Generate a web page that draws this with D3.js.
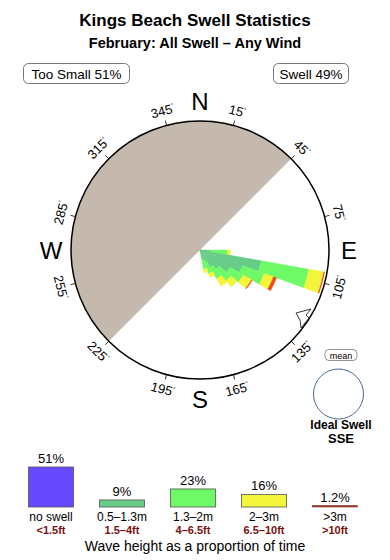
<!DOCTYPE html>
<html>
<head>
<meta charset="utf-8">
<script src="https://cdn.jsdelivr.net/npm/d3@7"></script>
<style>
  body { margin: 0; background: #fff; }
  svg { display: block; font-family: "Liberation Sans", Arial, sans-serif; }
</style>
</head>
<body>
<svg id="viz" width="390" height="560"></svg>
<script>
// ---- data ----
const bins    = [90, 100, 110, 120, 130, 140, 150, 160];   // bin start bearing, 10 deg wide
const small   = [1.2, 7.7, 5.6, 4.3, 3.1, 2.5, 1.5, 1.2];  // 0.5-1.3m
const medium  = [2.2, 6.0, 2.9, 1.9, 1.9, 1.6, 1.6, 1.2];  // 1.3-2m
const large   = [0.4, 1.9, 1.2, 1.2, 1.0, 1.1, 0.5, 0.5];  // 2-3m
const xlarge  = [0.0, 0.1, 0.4, 0.1, 0.0, 0.0, 0.0, 0.0];  // >3m

const legendCats   = ["no swell", "0.5–1.3m", "1.3–2m", "2–3m", ">3m"];
const legendFeet   = ["<1.5ft", "1.5–4ft", "4–6.5ft", "6.5–10ft", ">10ft"];
const legendPct    = [51, 9, 23, 16, 1.2];
const legendLabels = ["51%", "9%", "23%", "16%", "1.2%"];

const degTicks = [15, 45, 75, 105, 135, 165, 195, 225, 255, 285, 315, 345];
const cardinals = [["N", 0], ["E", 90], ["S", 180], ["W", 270]];

const colors = ["#6648ff", "#66cc88", "#6dfa66", "#f2f53a", "#ee4a1a"];

// ---- setup ----
const svg = d3.select("#viz");
const cx = 200, cy = 250, R = 129;
const rad = d => d * Math.PI / 180;

// titles
svg.append("text").attr("x", 195).attr("y", 26).attr("text-anchor", "middle")
  .attr("font-size", 17).attr("font-weight", "bold").text("Kings Beach Swell Statistics");
svg.append("text").attr("x", 195).attr("y", 48).attr("text-anchor", "middle")
  .attr("font-size", 14.5).attr("font-weight", "bold").text("February: All Swell – Any Wind");

// top boxes
function labelBox(x, w, txt) {
  svg.append("rect").attr("x", x).attr("y", 63.5).attr("width", w).attr("height", 20)
    .attr("rx", 5).attr("fill", "#fff").attr("stroke", "#777");
  svg.append("text").attr("x", x + w / 2).attr("y", 78.5).attr("text-anchor", "middle")
    .attr("font-size", 13.5).text(txt);
}
labelBox(23.5, 106, "Too Small 51%");
labelBox(273.5, 75, "Swell 49%");

// ---- compass ----
const g = svg.append("g").attr("transform", `translate(${cx},${cy})`);

// shadowed half (west side)
g.append("path")
  .attr("d", d3.arc()({ innerRadius: 0, outerRadius: R, startAngle: rad(225), endAngle: rad(405) }))
  .attr("fill", "#c5b9ae");

// rose petals, stacked by height class
const r = d3.scaleLinear().domain([0, 16]).range([0, R]);
const series = [small, medium, large, xlarge];
const rows = bins.map((b, i) => {
  let acc = 0;
  return series.map((s, k) => {
    const seg = { bin: b, k, r0: acc, r1: acc + s[i] };
    acc += s[i];
    return seg;
  });
}).flat().filter(d => d.r1 > d.r0);

const arc = d3.arc()
  .innerRadius(d => r(d.r0))
  .outerRadius(d => r(d.r1))
  .startAngle(d => rad(d.bin))
  .endAngle(d => rad(d.bin + 10));

g.selectAll("path.petal").data(rows).join("path")
  .attr("class", "petal")
  .attr("d", arc)
  .attr("fill", d => colors[d.k + 1])
  .attr("stroke", d => colors[d.k + 1])
  .attr("stroke-width", 0.4);

// outline circle
g.append("circle").attr("r", R).attr("fill", "none").attr("stroke", "#000").attr("stroke-width", 1.5);

// ticks and degree labels
g.selectAll("line.tick").data(degTicks).join("line")
  .attr("x1", d => R * Math.sin(rad(d))).attr("y1", d => -R * Math.cos(rad(d)))
  .attr("x2", d => (R + 5) * Math.sin(rad(d))).attr("y2", d => -(R + 5) * Math.cos(rad(d)))
  .attr("stroke", "#000").attr("stroke-width", 0.8);

const deg = g.selectAll("text.deg").data(degTicks).join("text")
  .attr("class", "deg")
  .attr("transform", d => {
    const x = 144 * Math.sin(rad(d)), y = -144 * Math.cos(rad(d));
    let rot = d > 90 && d < 270 ? d - 180 : (d > 180 ? d - 360 : d);
    return `translate(${x},${y}) rotate(${rot})`;
  })
  .attr("text-anchor", "middle").attr("dy", "0.35em").attr("font-size", 13);
deg.append("tspan").text(d => d);
deg.append("tspan").attr("font-size", 6).attr("dy", "-0.9em").text("°");

g.selectAll("text.card").data(cardinals).join("text")
  .attr("x", d => 149 * Math.sin(rad(d[1])))
  .attr("y", d => -149 * Math.cos(rad(d[1])))
  .attr("dy", "0.36em").attr("text-anchor", "middle")
  .attr("font-size", 24).text(d => d[0]);

// small marker arrow near the rim
g.append("path")
  .attr("d", "M96,63 L111,59 L106,65 L109,68 L101,78 L100,70 Z")
  .attr("fill", "#fff").attr("stroke", "#222").attr("stroke-width", 0.9);

// ---- mean / ideal swell ----
svg.append("rect").attr("x", 325).attr("y", 349.5).attr("width", 32).attr("height", 11)
  .attr("rx", 4).attr("fill", "#fff").attr("stroke", "#777").attr("stroke-width", 0.8);
svg.append("text").attr("x", 341).attr("y", 358.5).attr("text-anchor", "middle")
  .attr("font-size", 9).text("mean");
svg.append("circle").attr("cx", 338.5).attr("cy", 394).attr("r", 25)
  .attr("fill", "#fff").attr("stroke", "#4a6890").attr("stroke-width", 1);
svg.append("text").attr("x", 341).attr("y", 429).attr("text-anchor", "middle")
  .attr("font-size", 12).attr("font-weight", "bold").text("Ideal Swell");
svg.append("text").attr("x", 341).attr("y", 443).attr("text-anchor", "middle")
  .attr("font-size", 13).attr("font-weight", "bold").text("SSE");

// ---- legend bars ----
const base = 507;
const lx = d3.scalePoint().domain(legendCats).range([51, 335]);
const ly = d3.scaleLinear().domain([0, 51]).range([0, 40]);
const bw = 45;

svg.selectAll("rect.lbar").data(legendCats).join("rect")
  .attr("class", "lbar")
  .attr("x", d => lx(d) - bw / 2)
  .attr("y", (d, i) => base - Math.max(ly(legendPct[i]), 1.5))
  .attr("width", bw)
  .attr("height", (d, i) => Math.max(ly(legendPct[i]), 1.5))
  .attr("fill", (d, i) => i === 4 ? "#8b3a2a" : colors[i])
  .attr("stroke", (d, i) => i === 4 ? "#8b3a2a" : "#555")
  .attr("stroke-width", (d, i) => i === 4 ? 0.6 : 0.8);

svg.selectAll("text.lpct").data(legendCats).join("text")
  .attr("x", d => lx(d))
  .attr("y", (d, i) => base - Math.max(ly(legendPct[i]), 1.5) - 4)
  .attr("text-anchor", "middle").attr("font-size", 13)
  .text((d, i) => legendLabels[i]);

svg.selectAll("text.lcat").data(legendCats).join("text")
  .attr("x", d => lx(d)).attr("y", 521)
  .attr("text-anchor", "middle").attr("font-size", 12).text(d => d);

svg.selectAll("text.lft").data(legendFeet).join("text")
  .attr("x", (d, i) => lx(legendCats[i])).attr("y", 533.5)
  .attr("text-anchor", "middle").attr("font-size", 11).attr("font-weight", "bold")
  .attr("fill", "#7a1010").text(d => d);

svg.append("text").attr("x", 195).attr("y", 551).attr("text-anchor", "middle")
  .attr("font-size", 14).text("Wave height as a proportion of time");
</script>
</body>
</html>
